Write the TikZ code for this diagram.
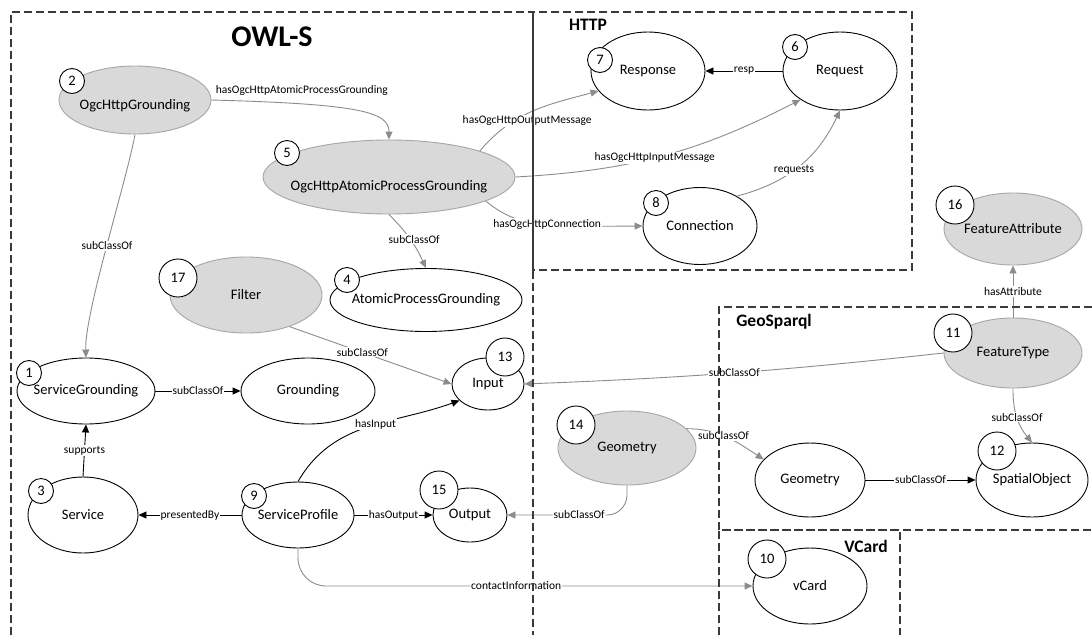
\documentclass[tikz,border=0pt]{standalone}
\usepackage{fontspec}
\setmainfont{Carlito}
\usetikzlibrary{shapes.geometric,arrows.meta,positioning}
\definecolor{greyfill}{HTML}{D9D9D9}
\definecolor{greyline}{HTML}{A6A6A6}
\definecolor{edgegrey}{HTML}{8C8C8C}
\definecolor{framegrey}{HTML}{3A3A3A}

\begin{document}
\begin{tikzpicture}[x=1pt, y=-1pt,
  concept/.style={ellipse, draw=black, fill=white, line width=0.9pt, inner sep=0pt},
  ogc/.style={concept, draw=greyline, fill=greyfill},
  every label/.style={font=\fontsize{14.5}{16}\selectfont},
  idx/.style={circle, draw=black, fill=white, line width=0.9pt, inner sep=0pt, minimum size=25pt, font=\fontsize{14.5}{16}\selectfont},
  idxwide/.style={idx, minimum size=38pt},
  rel/.style={draw=black, line width=0.9pt, -{Triangle[length=8pt,width=7pt]}},
  grel/.style={rel, draw=edgegrey},
  lab/.style={fill=white, inner sep=1pt, font=\fontsize{11.5}{13}\selectfont},
  frame/.style={draw=framegrey, line width=1.2pt, dash pattern=on 8pt off 4pt},
  title/.style={font=\bfseries\fontsize{17.5}{20}\selectfont}]
  \useasboundingbox[fill=white] (0,0) rectangle (1092,635);

  % concepts
  \node[concept, minimum width=138pt, minimum height=66pt, label=center:ServiceGrounding] (c1) at (86,391) {};
  \node[ogc, minimum width=152pt, minimum height=68pt, label={[yshift=-6pt]center:OgcHttpGrounding}] (c2) at (135,100) {};
  \node[concept, minimum width=110pt, minimum height=76pt, label=center:Service] (c3) at (83,515) {};
  \node[concept, minimum width=192pt, minimum height=63pt, label=center:AtomicProcessGrounding] (c4) at (426,300) {};
  \node[ogc, minimum width=252pt, minimum height=74pt, label={[yshift=-10pt]center:OgcHttpAtomicProcessGrounding}] (c5) at (389,177) {};
  \node[concept, minimum width=114pt, minimum height=78pt, label=center:Request] (c6) at (840,71) {};
  \node[concept, minimum width=114pt, minimum height=78pt, label=center:Response] (c7) at (648,71) {};
  \node[concept, minimum width=114pt, minimum height=77pt, label=center:Connection] (c8) at (700,226) {};
  \node[concept, minimum width=112pt, minimum height=66pt, label=center:ServiceProfile] (c9) at (298,515) {};
  \node[concept, minimum width=114pt, minimum height=76pt, label=center:vCard] (c10) at (810,586) {};
  \node[ogc, minimum width=138pt, minimum height=70pt, label=center:FeatureType] (c11) at (1013,353) {};
  \node[concept, minimum width=112pt, minimum height=74pt, label=center:SpatialObject] (c12) at (1032,480) {};
  \node[concept, minimum width=72pt, minimum height=52pt, label=center:Input] (c13) at (488,384) {};
  \node[ogc, minimum width=138pt, minimum height=74pt, label=center:Geometry] (c14) at (627,448) {};
  \node[concept, minimum width=74pt, minimum height=54pt, label=center:Output] (c15) at (470,515) {};
  \node[ogc, minimum width=138pt, minimum height=72pt, label=center:FeatureAttribute] (c16) at (1013,229) {};
  \node[ogc, minimum width=152pt, minimum height=76pt, label=center:Filter] (c17) at (246,295) {};
  \node[concept, minimum width=134pt, minimum height=66pt, label=center:Grounding] (grnd) at (308,391) {};
  \node[concept, minimum width=110pt, minimum height=74pt, label=center:Geometry] (geom) at (810,480) {};

  % numbers
  \node[idx] (b1) at (29,373) {1};
  \node[idx] (b2) at (72,81) {2};
  \node[idx] (b3) at (41,491) {3};
  \node[idx] (b4) at (347,280) {4};
  \node[idx] (b5) at (287,153) {5};
  \node[idx] (b6) at (795,47) {6};
  \node[idx] (b7) at (600,60) {7};
  \node[idx] (b8) at (656,203) {8};
  \node[idx] (b9) at (254,496) {9};
  \node[idxwide] (b10) at (767,559) {10};
  \node[idxwide] (b11) at (953,333) {11};
  \node[idxwide] (b12) at (997,451) {12};
  \node[idxwide] (b13) at (505,357) {13};
  \node[idxwide] (b14) at (576,425) {14};
  \node[idxwide] (b15) at (439,490) {15};
  \node[idxwide] (b16) at (955,205) {16};
  \node[idxwide] (b17) at (178,278) {17};

  % relations
  \draw[grel] (c2.east) .. controls (360,104) and (389,112) .. (c5.north) node[lab, fill=none, pos=0.25, above=7pt] {hasOgcHttpAtomicProcessGrounding};
  \draw[grel] (c5.16) to[out=50, in=195] node[lab, pos=0.45, yshift=-7pt] {hasOgcHttpOutputMessage} (c7.202);
  \draw[grel] (c5.east) to[bend right=12] node[lab, pos=0.47] {hasOgcHttpInputMessage} (c6.216);
  \draw[grel] (c5.346) .. controls (515,224) and (530,227) .. node[lab, pos=0.6] {hasOgcHttpConnection} (c8.west);
  \draw[rel] (c6.west) -- node[lab] {resp} (c7.east);
  \draw[grel] (c8.39) to[bend right=25] node[lab, pos=0.45] {requests} (c6.south);
  \draw[grel] (c2.south) to[out=-100, in=92, looseness=0.5] node[lab] {subClassOf} (c1.north);
  \draw[grel] (c5.south) to[bend left=10] node[lab, xshift=4pt] {subClassOf} (c4.north);
  \draw[grel] (c17.324) -- node[lab, pos=0.45] {subClassOf} (c13.west);
  \draw[rel] (c1.east) -- node[lab] {subClassOf} (grnd.west);
  \draw[rel] (c3.north) -- node[lab] {supports} (c1.south);
  \draw[rel] (c9.west) -- node[lab] {presentedBy} (c3.east);
  \draw[rel] (c9.north) to[out=60, in=200] node[lab, pos=0.55] {hasInput} (c13.210);
  \draw[rel] (c9.east) -- node[lab] {hasOutput} (c15.west);
  \draw[grel, rounded corners=28pt] (c9.south) |- node[lab, pos=0.74] {contactInformation} (c10.west);
  \draw[grel] (c11.west) to[bend left=2] node[lab] {subClassOf} (c13.east);
  \draw[grel] (c14.18) to[out=0, in=147] node[lab, pos=0.45] {subClassOf} (geom.156);
  \draw[grel, rounded corners=20pt] (c14.south) |- node[lab, pos=0.7] {subClassOf} (c15.east);
  \draw[rel] (geom.east) -- node[lab] {subClassOf} (c12.west);
  \draw[grel] (c11.south) to[bend right=20] node[lab] {subClassOf} (c12.north);
  \draw[grel] (c11.north) -- node[lab] {hasAttribute} (c16.south);

  % frames
  \draw[frame] (11,635) -- (11,12) -- (533,12) -- (533,635);
  \draw[frame] (533,12) rectangle (912,270);
  \draw[frame] (1092,307) -- (719,307) -- (719,530) -- (1092,530);
  \draw[frame] (719,635) -- (719,530) -- (900,530) -- (900,635);
  \node[font=\bfseries\fontsize{30}{34}\selectfont] (owls) at (272,37) {OWL-S};
  \node[title] (http) at (588,25) {HTTP};
  \node[title] (geosparql) at (774,322) {GeoSparql};
  \node[title] (vcardtitle) at (866,546) {VCard};
\end{tikzpicture}
\end{document}
